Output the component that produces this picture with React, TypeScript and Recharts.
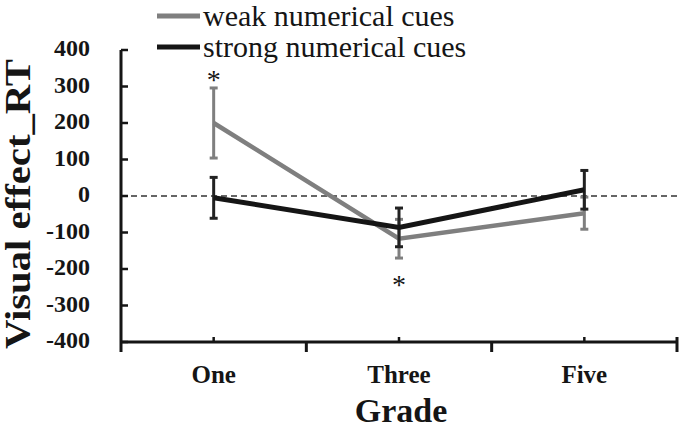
import React from "react";
import {
  ErrorBar,
  Legend,
  Line,
  LineChart,
  ReferenceDot,
  ReferenceLine,
  XAxis,
  YAxis,
} from "recharts";

// Visual effect on RT by grade, weak vs strong numerical cues (mean ± error)

const grades = ["One", "Three", "Five"];
const seriesNames = ["weak numerical cues", "strong numerical cues"];
const weakMean = [200, -117, -47];
const weakErr = [96, 53, 44];
const strongMean = [-5, -86, 17];
const strongErr = [56, 53, 53];
// where a significance star goes relative to the weak-cue error bar
const weakSig = ["above", "below", ""];
const yTicks = [-400, -300, -200, -100, 0, 100, 200, 300, 400];

const data = grades.map((g, i) => ({
  grade: g,
  weak: weakMean[i],
  weakErr: weakErr[i],
  strong: strongMean[i],
  strongErr: strongErr[i],
}));

const serif = "'Liberation Serif', 'Times New Roman', serif";
const ink = "#151515";
const gray = "#7f7f7f";

function YTick(props: any) {
  const { x, y, payload } = props;
  return (
    <g>
      <line x1={x} y1={y} x2={x + 7} y2={y} stroke={ink} strokeWidth={2.5} />
      <text x={x - 31} y={y + 6} textAnchor="end" fontFamily={serif} fontWeight="bold" fontSize={24} fill={ink}>
        {payload.value}
      </text>
    </g>
  );
}

function XTick(props: any) {
  const { x, y, payload, index, visibleTicksCount } = props;
  const half = payload.offset ?? 92.7;
  const last = index === visibleTicksCount - 1;
  return (
    <g>
      <line x1={x} y1={y} x2={x} y2={y - 5} stroke={ink} strokeWidth={2.5} />
      <line x1={x - half} y1={y} x2={x - half} y2={y + 10} stroke={ink} strokeWidth={3} />
      {last && <line x1={x + half} y1={y - 5} x2={x + half} y2={y + 10} stroke={ink} strokeWidth={3} />}
      <text x={x} y={y + 41} textAnchor="middle" fontFamily={serif} fontWeight="bold" fontSize={25} fill={ink}>
        {payload.value}
      </text>
    </g>
  );
}

function StarLabel(where: string) {
  return (props: any) => {
    const { viewBox } = props;
    const cx = viewBox.x + (viewBox.width || 0) / 2;
    const cy = viewBox.y + (viewBox.height || 0) / 2;
    const baseline = where === "above" ? cy + 1 : cy + 36;
    return (
      <text x={cx} y={baseline} textAnchor="middle" fontFamily={serif} fontSize={28} fill={ink}>
        *
      </text>
    );
  };
}

function LegendBox(props: any) {
  const items = [...(props.payload || [])].sort(
    (a: any, b: any) => seriesNames.indexOf(a.value) - seriesNames.indexOf(b.value)
  );
  return (
    <div style={{ fontFamily: serif, fontSize: 30, lineHeight: "31px", color: ink }}>
      {items.map((p: any) => (
        <div key={p.value} style={{ display: "flex", alignItems: "center", whiteSpace: "nowrap" }}>
          <svg width={46} height={8} style={{ display: "block" }}>
            <line x1={0} y1={4} x2={43} y2={4} stroke={p.color} strokeWidth={5} />
          </svg>
          <span>{p.value}</span>
        </div>
      ))}
    </div>
  );
}

export default function App() {
  return (
    <div style={{ position: "absolute", left: 0, top: 0, background: "#fff" }}>
      <LineChart width={683} height={429} data={data} margin={{ top: 50, right: 6, bottom: 0, left: 0 }}>
        <XAxis
          dataKey="grade"
          scale="band"
          height={87}
          axisLine={{ stroke: ink, strokeWidth: 3 }}
          tickLine={false}
          tickSize={0}
          tickMargin={0}
          tick={<XTick />}
          interval={0}
          label={(p: any) => {
            const vb = p.viewBox;
            return (
              <text x={vb.x + vb.width / 2 + 2} y={vb.y + 80} textAnchor="middle" fontFamily={serif} fontWeight="bold" fontSize={34} fill={ink}>
                Grade
              </text>
            );
          }}
        />
        <YAxis
          width={121}
          domain={[-400, 400]}
          ticks={yTicks}
          interval={0}
          axisLine={{ stroke: ink, strokeWidth: 3 }}
          tickLine={false}
          tickSize={0}
          tickMargin={0}
          tick={<YTick />}
          label={(p: any) => {
            const vb = p.viewBox;
            const cx = vb.x + 30;
            const cy = vb.y + vb.height / 2 + 8;
            return (
              <text
                x={cx}
                y={cy}
                transform={`rotate(-90, ${cx}, ${cy})`}
                textAnchor="middle"
                fontFamily={serif}
                fontWeight="bold"
                fontSize={35}
                textLength={290}
                lengthAdjust="spacingAndGlyphs"
                fill={ink}
              >
                Visual effect_RT
              </text>
            );
          }}
        />
        <ReferenceLine y={0} stroke="#333" strokeWidth={1.5} strokeDasharray="6 4" />
        <Legend
          layout="vertical"
          align="center"
          verticalAlign="middle"
          itemSorter={(item: any) => seriesNames.indexOf(item.value)}
          content={<LegendBox />}
          wrapperStyle={{ left: 157, top: 0, width: 320, height: 64 }}
        />
        <Line
          dataKey="weak"
          name={seriesNames[0]}
          stroke={gray}
          strokeWidth={4.5}
          dot={false}
          activeDot={false}
          isAnimationActive={false}
        >
          <ErrorBar dataKey="weakErr" direction="y" width={4} stroke={gray} strokeWidth={3} isAnimationActive={false} />
        </Line>
        <Line
          dataKey="strong"
          name={seriesNames[1]}
          stroke={ink}
          strokeWidth={5}
          dot={false}
          activeDot={false}
          isAnimationActive={false}
        >
          <ErrorBar dataKey="strongErr" direction="y" width={4} stroke="#222" strokeWidth={3} isAnimationActive={false} />
        </Line>
        {grades.map((g, i) =>
          weakSig[i] ? (
            <ReferenceDot
              key={g}
              x={g}
              y={weakSig[i] === "above" ? weakMean[i] + weakErr[i] : weakMean[i] - weakErr[i]}
              r={0}
              fill="none"
              stroke="none"
              label={StarLabel(weakSig[i])}
            />
          ) : null
        )}
      </LineChart>
    </div>
  );
}
